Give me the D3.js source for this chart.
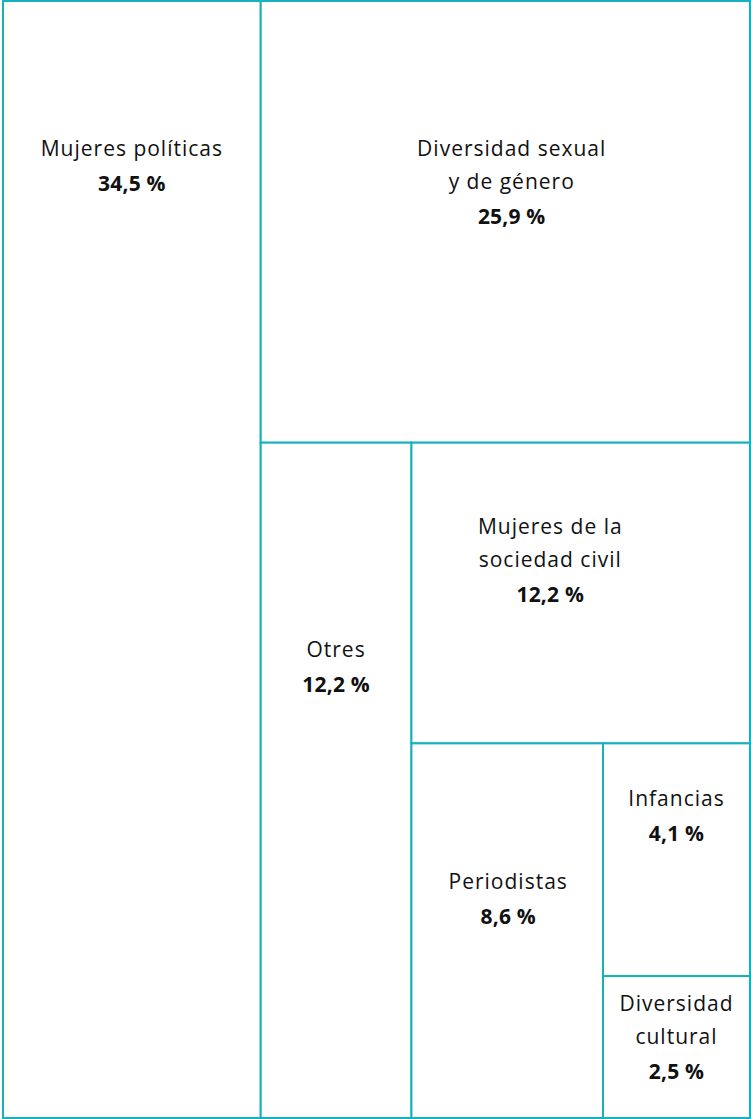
<!DOCTYPE html>
<html lang="es">
<head>
<meta charset="utf-8">
<script src="https://cdn.jsdelivr.net/npm/d3@7"></script>
<style>
  html, body { margin: 0; padding: 0; background: #ffffff; }
  svg { display: block; }
  .name { font-family: "Open Sans", "Noto Sans", sans-serif; font-size: 21px; fill: #111111; letter-spacing: 1px; }
  .value { font-family: "Open Sans", "Noto Sans", sans-serif; font-size: 21px; font-weight: 700; fill: #111111; letter-spacing: 0.2px; }
</style>
</head>
<body>
<script>
// Categories (label lines) and their share of the total, in percent.
const categories = [
  ["Mujeres políticas"],
  ["Diversidad sexual", "y de género"],
  ["Otres"],
  ["Mujeres de la", "sociedad civil"],
  ["Periodistas"],
  ["Infancias"],
  ["Diversidad", "cultural"]
];
const values = [34.5, 25.9, 12.2, 12.2, 8.6, 4.1, 2.5];
const valueLabels = ["34,5 %", "25,9 %", "12,2 %", "12,2 %", "8,6 %", "4,1 %", "2,5 %"];

// Where each label block sits inside its cell (fraction of width, first line as fraction of height).
const labelFx = [0.5, 0.513, 0.5, 0.41, 0.505, 0.5, 0.5];
const labelFy = [0.132, 0.334, 0.306, 0.279, 0.37, 0.237, 0.194];

const W = 751, H = 1119;
const box = { left: 3, top: 1, right: 750, bottom: 1118 };
const strokeColor = "#17b0bd";

const svg = d3.select("body").append("svg").attr("width", W).attr("height", H);

// Alternating slice/dice: each child peels off a strip, first vertically then horizontally.
function spiralTile(parent, x0, y0, x1, y1) {
  const nodes = parent.children;
  let remaining = parent.value;
  let vertical = true;
  nodes.forEach((node, i) => {
    if (i === nodes.length - 1) {
      node.x0 = x0; node.y0 = y0; node.x1 = x1; node.y1 = y1;
      return;
    }
    const k = node.value / remaining;
    if (vertical) {
      const x = x0 + (x1 - x0) * k;
      node.x0 = x0; node.x1 = x; node.y0 = y0; node.y1 = y1;
      x0 = x;
    } else {
      const y = y0 + (y1 - y0) * k;
      node.x0 = x0; node.x1 = x1; node.y0 = y0; node.y1 = y;
      y0 = y;
    }
    remaining -= node.value;
    vertical = !vertical;
  });
}

const data = {
  children: values.map((v, i) => ({ lines: categories[i], value: v, label: valueLabels[i], fx: labelFx[i], fy: labelFy[i] }))
};

const root = d3.hierarchy(data).sum(d => d.value || 0);
d3.treemap().tile(spiralTile).size([box.right - box.left, box.bottom - box.top]).round(false)(root);

const g = svg.append("g").attr("transform", `translate(${box.left},${box.top})`);

const cell = g.selectAll("g.cell").data(root.leaves()).join("g").attr("class", "cell");

cell.append("rect")
  .attr("x", d => d.x0)
  .attr("y", d => d.y0)
  .attr("width", d => d.x1 - d.x0)
  .attr("height", d => d.y1 - d.y0)
  .attr("fill", "#ffffff")
  .attr("stroke", strokeColor)
  .attr("stroke-width", 2);

const lineGap = 33, valueGap = 35;

cell.each(function(d) {
  const sel = d3.select(this);
  const cx = d.x0 + (d.x1 - d.x0) * d.data.fx;
  const y = d.y0 + (d.y1 - d.y0) * d.data.fy;
  d.data.lines.forEach((t, j) => {
    sel.append("text")
      .attr("class", "name")
      .attr("x", cx)
      .attr("y", y + j * lineGap)
      .attr("dy", "0.35em")
      .attr("text-anchor", "middle")
      .text(t);
  });
  sel.append("text")
    .attr("class", "value")
    .attr("x", cx)
    .attr("y", y + (d.data.lines.length - 1) * lineGap + valueGap)
    .attr("dy", "0.35em")
    .attr("text-anchor", "middle")
    .text(d.data.label);
});
</script>
</body>
</html>
